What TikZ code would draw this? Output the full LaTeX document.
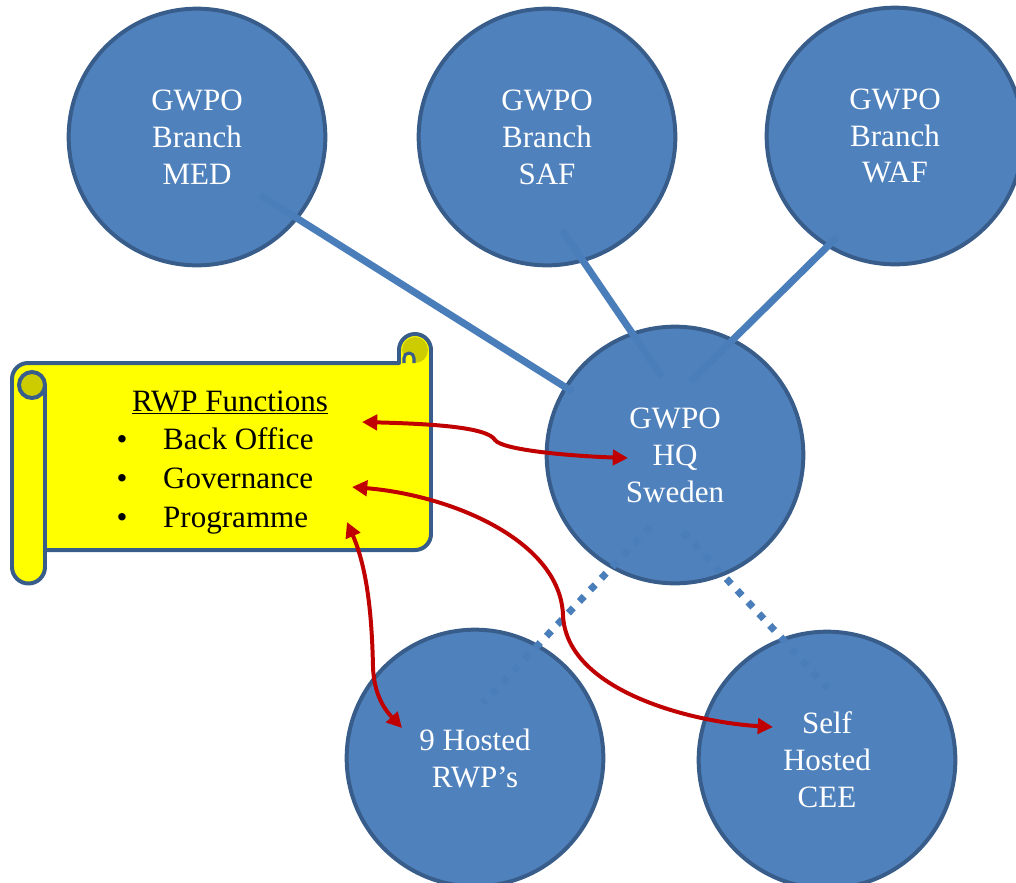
\documentclass[tikz,border=0pt]{standalone}
\usepackage{fontspec}
\setmainfont{LiberationSerif}[Extension=.ttf, UprightFont=*-Regular, BoldFont=*-Bold,
  ItalicFont=*-Italic, BoldItalicFont=*-BoldItalic]
\usetikzlibrary{arrows.meta,calc}
\definecolor{nodeblue}{HTML}{4F81BD}
\definecolor{rimblue}{HTML}{385D8A}
\definecolor{linkblue}{HTML}{4A7EBB}
\definecolor{flowred}{HTML}{C00000}
\definecolor{scrollyel}{HTML}{FFFF00}
\definecolor{curlolive}{HTML}{CCCC00}
\newcommand{\bt}{\fontsize{26.5}{31.5}\selectfont}

\begin{document}
\begin{tikzpicture}[x=0.03cm, y=-0.03cm,
  org/.style={circle, draw=rimblue, fill=nodeblue, line width=3.4pt, minimum size=7.7cm,
              inner sep=0pt, text=white, font=\bt, align=center},
  link/.style={linkblue, line width=6pt},
  dotlink/.style={linkblue, line width=6pt, dash pattern=on 6pt off 7.6pt},
  flow/.style={flowred, line width=3.4pt,
               {Triangle[length=13pt,width=13pt]}-{Triangle[length=13pt,width=13pt]}},
  rim/.style={draw=rimblue, line width=3.4pt, line join=round},
  item/.style={font=\bt, anchor=base west, inner sep=0pt},
  bul/.style={font=\bt, anchor=base, inner sep=0pt}]

% frame in pixels of the reference: 1016 x 882, y downwards
\path[use as bounding box, clip] (0,0) rectangle (1016,882);

% ================================================================== the six offices
\node[org] (med)    at (197,137) {GWPO\\Branch\\MED};
\node[org] (saf)    at (547,137) {GWPO\\Branch\\SAF};
\node[org] (waf)    at (895,136) {GWPO\\Branch\\WAF};
\node[org] (hq)     at (675,455) {GWPO\\HQ\\Sweden};
\node[org] (hosted) at (475,758) {9 Hosted\\RWP’s};
\node[org] (self)   at (827,760) {Self\\Hosted\\CEE};

% branches hang on HQ, hosted ones dotted
\draw[link] ($(med)+(63,58)$) -- ($(hq)+(-102,-63)$);
\draw[link] ($(saf)+(15,93)$) -- ($(hq)+(-13,-78)$);
\draw[link] ($(waf)+(-58,101)$) -- ($(hq)+(15,-73)$);
\draw[dotlink] ($(hq)+(-25,72)$) -- ($(hosted)+(8,-55)$);
\draw[dotlink] ($(hq)+(8,77)$) -- ($(self)+(1,-72)$);

% ================================================================== the scroll
\filldraw[rim, fill=scrollyel] (12,379) arc[start angle=180, end angle=270, radius=16]
  -- (399,363) -- (399,350) arc[start angle=180, end angle=360, radius=16]
  -- (431,534) arc[start angle=0, end angle=90, radius=16]
  -- (45,550) -- (45,567) arc[start angle=0, end angle=180, radius=16.5] -- cycle;
% right curl
\fill[curlolive] (415,350) circle[radius=13];
\filldraw[rim, line width=2.6pt, fill=scrollyel] (404,363) -- (404,358)
  arc[start angle=180, end angle=360, radius=5] -- (414,363);
% left curl
\filldraw[rim, fill=curlolive] (32,385) circle[radius=13];
\draw[rim] (45,385) -- (45,550);

\node[bul] (title) at (230,411) {\underline{RWP Functions}};
\foreach \t [count=\i] in {Back Office, Governance, Programme}{
  \node[bul] (bu\i) at (122,{410+39*\i}) {\textbullet};
  \node[item] (it\i) at (163,{410+39*\i}) {\t};
}

% ================================================================== functions to offices
\coordinate (boTip) at (362,422);
\coordinate (goTip) at (352,487);
\coordinate (prTip) at (347,522);
\draw[flow] (boTip) .. controls (440,424) and (488,428) .. (495,440)
  .. controls (502,450) and (570,456) .. ($(hq)+(-47,3)$);
\draw[flow] (goTip) .. controls (450,495) and (560,540) .. (563,615)
  .. controls (566,690) and (690,722) .. ($(self)+(-54,-33)$);
\draw[flow] (prTip) .. controls (368,570) and (372,620) .. (373,667)
  .. controls (374,700) and (390,715) .. ($(hosted)+(-73,-30)$);
\end{tikzpicture}
\end{document}
